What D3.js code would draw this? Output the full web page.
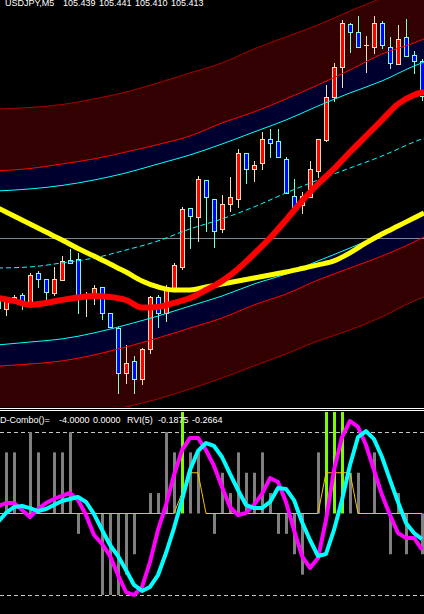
<!DOCTYPE html>
<html>
<head>
<meta charset="utf-8">
<script src="https://cdn.jsdelivr.net/npm/d3@7"></script>
<style>
html, body { margin: 0; padding: 0; background: #000; overflow: hidden; }
text { font-family: "Liberation Sans", Arial, sans-serif; }
</style>
</head>
<body>
<svg id="chart" width="424" height="614"></svg>
<script>
// USDJPY M5 - candles
var candleOpen  = [105.260,105.253,105.259,105.264,105.257,105.280,105.276,105.265,105.275,105.290,
                   105.291,105.262,105.262,105.270,105.250,105.239,105.205,105.214,105.201,105.223,
                   105.262,105.250,105.269,105.285,105.329,105.322,105.350,105.336,105.313,105.332,
                   105.336,105.370,105.358,105.363,105.381,105.379,105.366,105.338,105.331,105.337,
                   105.357,105.380,105.412,105.435,105.467,105.461,105.451,105.450,105.468,105.450,
                   105.437,105.457,105.444,105.439];
var candleHigh  = [105.262,105.262,105.264,105.265,105.280,105.282,105.276,105.285,105.293,105.298,
                   105.295,105.266,105.271,105.270,105.250,105.240,105.226,105.218,105.224,105.263,
                   105.264,105.271,105.288,105.330,105.329,105.353,105.350,105.336,105.339,105.352,
                   105.373,105.370,105.364,105.386,105.388,105.388,105.367,105.351,105.341,105.364,
                   105.381,105.421,105.438,105.470,105.468,105.473,105.458,105.473,105.469,105.457,
                   105.466,105.471,105.447,105.441];
var candleLow   = [105.251,105.249,105.258,105.253,105.256,105.270,105.260,105.264,105.275,105.289,
                   105.250,105.248,105.257,105.246,105.240,105.190,105.198,105.190,105.197,105.220,
                   105.240,105.244,105.268,105.283,105.299,105.304,105.312,105.300,105.311,105.327,
                   105.330,105.348,105.349,105.358,105.367,105.367,105.340,105.328,105.325,105.337,
                   105.352,105.379,105.409,105.420,105.446,105.450,105.431,105.445,105.449,105.434,
                   105.437,105.443,105.430,105.410];
var candleClose = [105.254,105.260,105.262,105.257,105.279,105.276,105.266,105.276,105.289,105.288,
                   105.262,105.263,105.269,105.250,105.240,105.205,105.213,105.201,105.223,105.262,
                   105.250,105.270,105.286,105.328,105.323,105.351,105.337,105.312,105.332,105.337,
                   105.370,105.358,105.361,105.381,105.378,105.367,105.340,105.328,105.338,105.358,
                   105.381,105.412,105.435,105.468,105.461,105.450,105.451,105.468,105.451,105.438,
                   105.456,105.443,105.439,105.413];

// channel lines, sampled every 4 bars
var bandIdx     = [0,4,8,12,16,20,24,28,32,36,40,44,48,52,53.25];
var upperOuter  = [105.4033,105.4044,105.4066,105.4108,105.4160,105.4228,105.4303,105.4378,105.4483,105.4573,105.4663,105.4768,105.4865,105.4963,105.4993];
var upperInner  = [105.3568,105.3586,105.3620,105.3658,105.3710,105.3766,105.3830,105.3928,105.4010,105.4108,105.4213,105.4325,105.4445,105.4528,105.4558];
var upperCyan   = [105.3418,105.3433,105.3459,105.3500,105.3553,105.3620,105.3688,105.3770,105.3860,105.3950,105.4055,105.4153,105.4243,105.4355,105.4385];
var centerLine  = [105.2840,105.2848,105.2878,105.2915,105.2975,105.3043,105.3133,105.3208,105.3298,105.3403,105.3500,105.3590,105.3680,105.3785,105.3815];
var lowerCyan   = [105.2263,105.2285,105.2308,105.2353,105.2413,105.2480,105.2555,105.2630,105.2720,105.2795,105.2893,105.2990,105.3095,105.3215,105.3253];
var lowerInner  = [105.2105,105.2120,105.2143,105.2188,105.2248,105.2315,105.2390,105.2465,105.2563,105.2645,105.2750,105.2840,105.2930,105.3035,105.3073];
var lowerOuter  = [105.1663,105.1685,105.1715,105.1753,105.1798,105.1858,105.1933,105.2015,105.2105,105.2195,105.2293,105.2375,105.2473,105.2593,105.2623];

// moving averages, sampled every 2 bars
var maIdx    = [0,2,4,6,8,10,12,14,16,18,20,22,24,26,28,30,32,34,36,38,40,42,44,46,48,50,52,53.25];
var maYellow = [105.3290,105.3230,105.3170,105.3110,105.3050,105.2986,105.2930,105.2870,105.2810,105.2743,
                105.2698,105.2675,105.2675,105.2698,105.2720,105.2743,105.2765,105.2788,105.2810,105.2836,
                105.2863,105.2893,105.2953,105.3028,105.3095,105.3155,105.3215,105.3253];
var maRed    = [105.2615,105.2593,105.2563,105.2578,105.2600,105.2619,105.2630,105.2623,105.2600,105.2544,
                105.2548,105.2578,105.2615,105.2675,105.2743,105.2833,105.2945,105.3065,105.3200,105.3343,
                105.3470,105.3583,105.3710,105.3830,105.3950,105.4070,105.4138,105.4160];
var hLine = 105.3065;

// sub window: D-Combo + RVI(5)
var comboHist   = [0,6,6,0,8,6,0,6,6,8, -2,0,0,-8,-8,-8,-6,-4,0,2, 2,8,6,0,6,6,0,-2,4,2,
                   6,4,4,6,2,-2,-2,-4,-6,0, 6,0,0,0,4,4,0,6,0,-4, 2,-4,0,-4];
var comboSignal = [0,0,0,0,0,0,0,0,0,0, 0,0,0,0,0,0,0,0,0,0, 0,0,0,10,0,0,0,0,0,0,
                   0,0,0,0,0,0,0,0,0,0, 0,10,10,10,0,0,0,0,0,0, 0,0,0,0];
var comboLine   = [0,0,0,0,0,0,0,0,0,0, 0,0,0,0,0,0,0,0,0,0, 0,0,0,2,4,4,0,0,0,0,
                   0,0,0,0,0,0,0,0,0,0, 0,4,4,4,4,0,0,0,0,0, 0,0,0,0];
var rviMain   = [0.055,0.077,0.077,0.026,-0.026,0.033,0.077,0.107,0.129,0.151,
                 0.099,-0.011,-0.158,-0.224,-0.313,-0.453,-0.578,-0.600,-0.541,-0.357,
                 -0.121,0.063,0.283,0.467,0.556,0.556,0.467,0.350,0.195,0.048,
                 -0.011,0.004,0.063,0.144,0.261,0.232,0.085,-0.121,-0.313,-0.401,
                 -0.328,-0.048,0.320,0.563,0.681,0.637,0.504,0.320,0.136,-0.011,
                 -0.144,-0.180,-0.180,-0.266];
var rviSignal = [-0.063,0.004,0.048,0.055,0.040,0.018,0.033,0.063,0.092,0.107,
                 0.121,0.085,-0.004,-0.121,-0.232,-0.313,-0.416,-0.526,-0.570,-0.541,
                 -0.453,-0.291,-0.107,0.099,0.320,0.460,0.519,0.497,0.416,0.291,
                 0.173,0.063,0.040,0.040,0.085,0.188,0.180,0.099,-0.063,-0.195,
                 -0.313,-0.298,-0.121,0.099,0.357,0.563,0.607,0.548,0.416,0.247,
                 0.085,-0.070,-0.144,-0.188];
var rviLevels = [0.6, -0.6];

var W = 424, H = 614;
var svg = d3.select('#chart');
svg.append('rect').attr('width', W).attr('height', H).attr('fill', '#000');

var x = d3.scaleLinear().domain([0, 53]).range([-2, 422]);
var y = d3.scaleLinear().domain([105.185, 105.485]).range([400, 0]);
var yCombo = d3.scaleLinear().domain([-8, 8]).range([595, 432]);
var yRvi = d3.scaleLinear().domain([-0.6, 0.6]).range([595, 432]);

var defs = svg.append('defs');
defs.append('clipPath').attr('id', 'clipMain').append('rect').attr('x', 0).attr('y', 0).attr('width', W).attr('height', 407);
defs.append('clipPath').attr('id', 'clipSub').append('rect').attr('x', 0).attr('y', 412).attr('width', W).attr('height', H - 412);

var main = svg.append('g').attr('clip-path', 'url(#clipMain)');

// channel fills
function bandArea(a, b) {
  return d3.area()
    .x(function(d, i) { return x(bandIdx[i]); })
    .y0(function(d, i) { return y(a[i]); })
    .y1(function(d, i) { return y(b[i]); })
    .curve(d3.curveMonotoneX)(bandIdx);
}
main.append('path').attr('d', bandArea(upperOuter, upperInner)).attr('fill', '#320000');
main.append('path').attr('d', bandArea(upperInner, upperCyan)).attr('fill', '#00002e');
main.append('path').attr('d', bandArea(lowerCyan, lowerInner)).attr('fill', '#00002e');
main.append('path').attr('d', bandArea(lowerInner, lowerOuter)).attr('fill', '#320000');

function bandLine(arr) {
  return d3.line()
    .x(function(d, i) { return x(bandIdx[i]); })
    .y(function(d) { return y(d); })
    .curve(d3.curveMonotoneX)(arr);
}

// horizontal line
main.append('line').attr('x1', 0).attr('x2', W)
  .attr('y1', Math.round(y(hLine)) + 0.5).attr('y2', Math.round(y(hLine)) + 0.5)
  .attr('stroke', '#7d8895').attr('stroke-width', 1);

// candles
var bars = d3.range(candleOpen.length);
var cg = main.append('g');
bars.forEach(function(i) {
  var cx = x(i);
  var up = candleClose[i] >= candleOpen[i];
  var border = up ? '#f5deb3' : '#7fffd4';
  var body = up ? '#ff0000' : '#0000ff';
  cg.append('line')
    .attr('x1', cx + 0.5).attr('x2', cx + 0.5)
    .attr('y1', Math.round(y(candleHigh[i]))).attr('y2', Math.round(y(candleLow[i])) + 1)
    .attr('stroke', border).attr('stroke-width', 1);
  var top = Math.round(y(Math.max(candleOpen[i], candleClose[i])));
  var bot = Math.round(y(Math.min(candleOpen[i], candleClose[i])));
  if (bot - top < 1) {
    cg.append('line').attr('x1', cx - 2).attr('x2', cx + 3)
      .attr('y1', top + 0.5).attr('y2', top + 0.5)
      .attr('stroke', border).attr('stroke-width', 1);
  } else {
    cg.append('rect')
      .attr('x', cx - 1.5).attr('y', top + 0.5)
      .attr('width', 4).attr('height', bot - top)
      .attr('fill', body).attr('stroke', border).attr('stroke-width', 1);
  }
});

// channel lines
main.append('path').attr('d', bandLine(upperOuter)).attr('fill', 'none').attr('stroke', '#a80000').attr('stroke-width', 1);
main.append('path').attr('d', bandLine(lowerOuter)).attr('fill', 'none').attr('stroke', '#a80000').attr('stroke-width', 1);
main.append('path').attr('d', bandLine(upperInner)).attr('fill', 'none').attr('stroke', '#ff0000').attr('stroke-width', 1);
main.append('path').attr('d', bandLine(lowerInner)).attr('fill', 'none').attr('stroke', '#ff0000').attr('stroke-width', 1);
main.append('path').attr('d', bandLine(upperCyan)).attr('fill', 'none').attr('stroke', '#00ffff').attr('stroke-width', 1);
main.append('path').attr('d', bandLine(lowerCyan)).attr('fill', 'none').attr('stroke', '#00ffff').attr('stroke-width', 1);
main.append('path').attr('d', bandLine(centerLine)).attr('fill', 'none').attr('stroke', '#00ffff')
  .attr('stroke-width', 1).attr('stroke-dasharray', '5,3');

// moving averages
var maLine = d3.line()
  .x(function(d, i) { return x(maIdx[i]); })
  .y(function(d) { return y(d); })
  .curve(d3.curveMonotoneX);
main.append('path').attr('d', maLine(maYellow)).attr('fill', 'none').attr('stroke', '#ffff00').attr('stroke-width', 5);
main.append('path').attr('d', maLine(maRed)).attr('fill', 'none').attr('stroke', '#ff0000').attr('stroke-width', 6);

// header (top half is off the window, as in the terminal)
var header = [['USDJPY,M5', 5], ['105.439', 63], ['105.441', 99], ['105.410', 135], ['105.413', 171]];
svg.selectAll('.hdr').data(header).enter().append('text')
  .attr('x', function(d) { return d[1]; }).attr('y', 5.5)
  .attr('fill', '#ffffff').attr('font-size', '9px')
  .text(function(d) { return d[0]; });

// separator
svg.append('line').attr('x1', 0).attr('x2', W).attr('y1', 408.5).attr('y2', 408.5).attr('stroke', '#fff');
svg.append('line').attr('x1', 0).attr('x2', W).attr('y1', 410.5).attr('y2', 410.5).attr('stroke', '#fff');

// sub window
var sub = svg.append('g').attr('clip-path', 'url(#clipSub)');

sub.selectAll('.lvl').data(rviLevels).enter().append('line')
  .attr('x1', 0).attr('x2', W)
  .attr('y1', function(d) { return Math.round(yRvi(d)) + 0.5; })
  .attr('y2', function(d) { return Math.round(yRvi(d)) + 0.5; })
  .attr('stroke', '#c8c8c8').attr('stroke-dasharray', '4,3');

sub.selectAll('.hist').data(comboHist).enter().append('rect')
  .attr('x', function(d, i) { return x(i) - 1; })
  .attr('width', 3)
  .attr('y', function(d) { return Math.min(yCombo(0), yCombo(d)); })
  .attr('height', function(d) { return Math.abs(yCombo(d) - yCombo(0)); })
  .attr('fill', '#808080');

sub.selectAll('.sig').data(comboSignal).enter().append('rect')
  .attr('x', function(d, i) { return x(i) - 1; })
  .attr('width', 3)
  .attr('y', function(d) { return Math.min(yCombo(0), yCombo(d)); })
  .attr('height', function(d) { return Math.abs(yCombo(d) - yCombo(0)); })
  .attr('fill', '#7cfc00');

var comboPath = d3.line()
  .x(function(d, i) { return x(i); })
  .y(function(d) { return yCombo(d); });
sub.append('path').attr('d', comboPath(comboLine)).attr('fill', 'none').attr('stroke', '#ffbf00').attr('stroke-width', 1);

var rviPath = d3.line()
  .x(function(d, i) { return x(i); })
  .y(function(d) { return yRvi(d); });
sub.append('path').attr('d', rviPath(rviMain)).attr('fill', 'none').attr('stroke', '#ff00ff')
  .attr('stroke-width', 4).attr('stroke-linejoin', 'round');
sub.append('path').attr('d', rviPath(rviSignal)).attr('fill', 'none').attr('stroke', '#00ffff')
  .attr('stroke-width', 4).attr('stroke-linejoin', 'round');

var label = [['D-Combo()=', 0], ['-4.0000', 59], ['0.0000', 93], ['RVI(5)', 127], ['-0.1875', 158], ['-0.2664', 192]];
svg.selectAll('.lbl').data(label).enter().append('text')
  .attr('x', function(d) { return d[1]; }).attr('y', 422.5)
  .attr('fill', '#ffffff').attr('font-size', '9px')
  .text(function(d) { return d[0]; });
</script>
</body>
</html>
